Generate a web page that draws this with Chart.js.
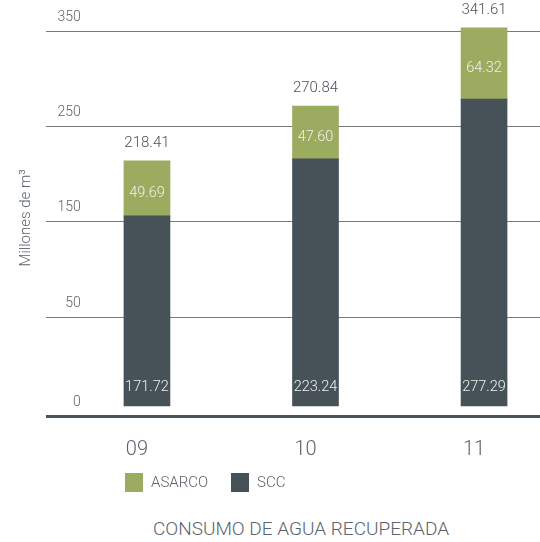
<!DOCTYPE html>
<html>
<head>
<meta charset="utf-8">
<script src="https://cdn.jsdelivr.net/npm/chart.js@4.4.1/dist/chart.umd.min.js"></script>
<style>
  body { margin:0; background:#fff; font-family:'Roboto',sans-serif; font-weight:300; color:#5b636b; }
  #wrap { position:relative; width:540px; height:542px; overflow:hidden; }
  #chart { position:absolute; left:0; top:0; }
  #legend { position:absolute; left:125px; top:473px; display:flex; align-items:center; font-size:15px; line-height:19px; }
  #legend .item { display:flex; align-items:center; margin-right:23px; }
  #legend .sw { width:18px; height:19px; margin-right:8px; }
  #title { position:absolute; left:0; top:519px; width:602px; text-align:center; font-size:19px; line-height:20px; }
</style>
</head>
<body>
<div id="wrap">
  <canvas id="chart" width="540" height="476"></canvas>
  <div id="legend"></div>
  <div id="title">CONSUMO DE AGUA RECUPERADA</div>
</div>
<script>
// datos (millones de m3)
const years = ['09', '10', '11'];
const scc = [171.72, 223.24, 277.29];
const asarco = [49.69, 47.60, 64.32];
const totals = [218.41, 270.84, 341.61];   // totales tal como aparecen impresos
const yTickLabels = ['0', '50', '150', '250', '350'];
const yGridValues = [-9.03, 79.5, 166.2, 252.0, 337.9];

const COL_SCC = '#465158';
const COL_ASARCO = '#9bab60';
const FONT = "'Roboto',sans-serif";

// leyenda en html
document.getElementById('legend').innerHTML = [['ASARCO', COL_ASARCO], ['SCC', COL_SCC]]
  .map(([n, c]) => `<div class="item"><span class="sw" style="background:${c}"></span>${n}</div>`).join('');

const valueLabels = {
  id: 'valueLabels',
  afterDatasetsDraw(chart) {
    const ctx = chart.ctx;
    const sccBars = chart.getDatasetMeta(0).data;
    const asBars = chart.getDatasetMeta(1).data;
    ctx.save();
    ctx.textAlign = 'center';
    ctx.textBaseline = 'middle';
    sccBars.forEach((b, i) => {
      const a = asBars[i];
      ctx.font = `300 14.5px ${FONT}`;
      ctx.fillStyle = '#f1f2ec';
      ctx.fillText(scc[i].toFixed(2), b.x, b.base - 19);
      ctx.fillText(asarco[i].toFixed(2), a.x, (a.y + a.base) / 2 + 5);
      ctx.font = `300 15px ${FONT}`;
      ctx.fillStyle = '#4a5159';
      ctx.fillText(totals[i].toFixed(2), a.x, a.y - 17.5);
    });
    ctx.restore();
  }
};

new Chart(document.getElementById('chart'), {
  type: 'bar',
  data: {
    datasets: [
      { label: 'SCC', data: years.map((y, i) => ({ x: i, y: scc[i] })), backgroundColor: COL_SCC, barThickness: 46, borderWidth: 0 },
      { label: 'ASARCO', data: years.map((y, i) => ({ x: i, y: asarco[i] })), backgroundColor: COL_ASARCO, barThickness: 46, borderWidth: 0 }
    ]
  },
  options: {
    responsive: false, animation: false,
    layout: { padding: 0 },
    plugins: { legend: { display: false }, tooltip: { enabled: false } },
    scales: {
      x: {
        type: 'linear', stacked: true, offset: false, min: -0.599, max: 2.332,
        afterBuildTicks: s => { s.ticks = years.map((_, i) => ({ value: i })); },
        grid: { display: false, offset: false }, border: { display: false },
        ticks: { callback: (v, i) => years[i], padding: 14, labelOffset: -10, maxRotation: 0, color: '#5b636b', font: { family: FONT, size: 20, weight: 300 } }
      },
      y: {
        stacked: true, min: -9.03, max: 348.7,
        afterBuildTicks: s => { s.ticks = yGridValues.map(v => ({ value: v })); },
        border: { display: false },
        grid: {
          drawTicks: false,
          color: c => c.index === 0 ? '#4a545b' : '#737a80',
          lineWidth: c => c.index === 0 ? 3 : 1
        },
        ticks: {
          mirror: true, crossAlign: 'far', padding: 11.5, labelOffset: -14,
          callback: (v, i) => yTickLabels[i], color: '#5b636b', font: { family: FONT, size: 14, weight: 300 }
        },
        title: { display: true, text: 'Millones de m³', color: '#5b636b', font: { family: FONT, size: 15, weight: 300 }, padding: { top: 17, bottom: -12 } }
      }
    }
  },
  plugins: [valueLabels]
});
</script>
</body>
</html>
